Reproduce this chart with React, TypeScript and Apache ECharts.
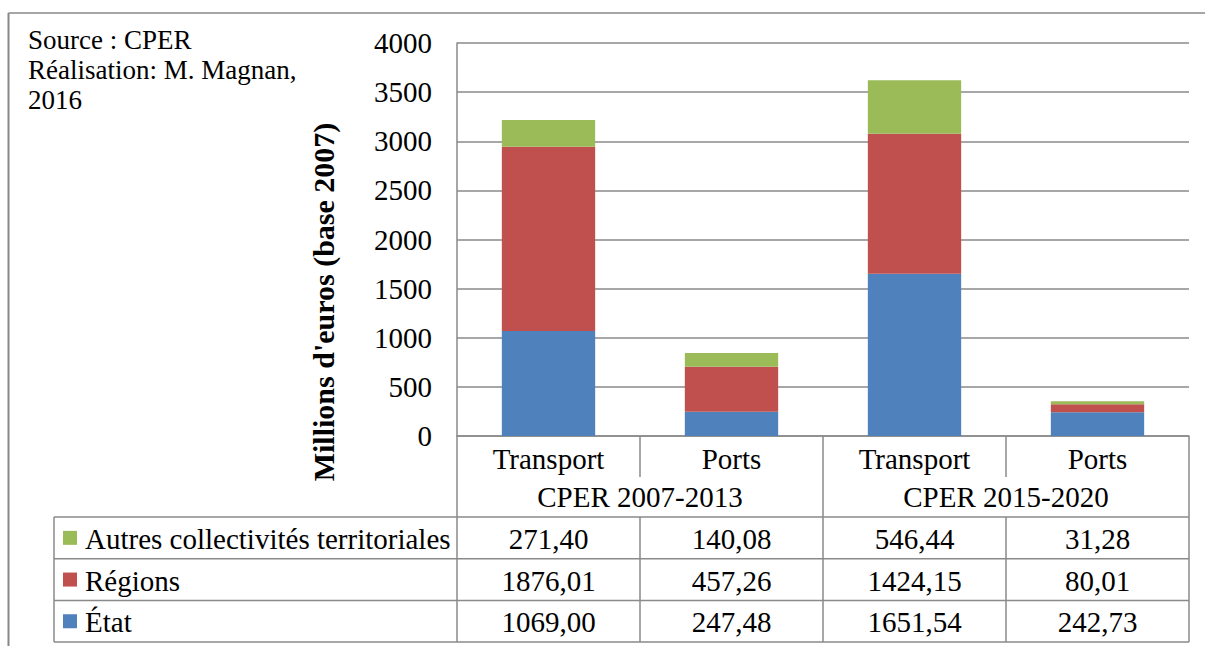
import React, { useEffect, useRef } from "react";
import * as echarts from "echarts";

const categories = ["Transport", "Ports", "Transport", "Ports"];
const periods = ["CPER 2007-2013", "CPER 2015-2020"];
const seriesNames = ["Autres collectivités territoriales", "Régions", "État"];
const autres = [271.4, 140.08, 546.44, 31.28];
const regions = [1876.01, 457.26, 1424.15, 80.01];
const etat = [1069.0, 247.48, 1651.54, 242.73];
const colors = ["#9BBB59", "#C0504D", "#4F81BD"];
const yMin = 0;
const yMax = 4000;
const yInterval = 500;
const yTitle = "Millions d'euros (base 2007)";
const sourceLines = ["Source : CPER", "Réalisation: M. Magnan,", "2016"];

const FONT = "Liberation Serif";
const LINE = "#8a8a8a";

const fmt = (v: number) => v.toFixed(2).replace(".", ",");

export default function App() {
  const ref = useRef<HTMLDivElement>(null);
  useEffect(() => {
    if (!ref.current) return;
    const chart = echarts.init(ref.current, null, { renderer: "svg" });
    chart.setOption({
      animation: false,
      textStyle: { fontFamily: FONT },
      grid: { left: 457, right: 16, top: 43, bottom: 210, containLabel: false },
      xAxis: {
        type: "category",
        data: categories,
        axisLine: { show: true, lineStyle: { color: LINE, width: 1.5 } },
        axisTick: { show: false },
        splitLine: { show: false },
        axisLabel: {
          color: "#000",
          fontSize: 29,
          fontFamily: FONT,
          margin: 8,
          lineHeight: 29,
          interval: 0,
        },
      },
      yAxis: {
        type: "value",
        min: yMin,
        max: yMax,
        interval: yInterval,
        axisLine: { show: true, lineStyle: { color: LINE, width: 1.5 } },
        axisTick: { show: false },
        splitLine: { show: true, lineStyle: { color: LINE, width: 1.5 } },
        axisLabel: {
          color: "#000",
          fontSize: 29,
          fontFamily: FONT,
          margin: 25,
          formatter: (v: number) => String(v),
        },
      },
      series: [
        { name: seriesNames[2], type: "bar", stack: "s", data: etat, itemStyle: { color: colors[2] }, barWidth: "51%" },
        { name: seriesNames[1], type: "bar", stack: "s", data: regions, itemStyle: { color: colors[1] }, barWidth: "51%" },
        { name: seriesNames[0], type: "bar", stack: "s", data: autres, itemStyle: { color: colors[0] }, barWidth: "51%" },
      ],
    });

    const xs = categories.map((_, i) => chart.convertToPixel({ xAxisIndex: 0 }, i) as number);
    const band = xs[1] - xs[0];
    const y0 = chart.convertToPixel({ yAxisIndex: 0 }, 0) as number;
    const leftEdge = xs[0] - band / 2;
    const rightEdge = xs[xs.length - 1] + band / 2;
    const tableLeft = 54;
    const rowTop = y0 + 81;
    const rowH = 41.7;
    const bottom = rowTop + rowH * 3;
    const ls = { stroke: LINE, lineWidth: 1.5 };
    const els: any[] = [];
    const txt = (x: number, y: number, text: string, align: string, extra: any = {}) =>
      els.push({
        type: "text",
        x,
        y,
        silent: true,
        ...extra,
        style: {
          text,
          fontFamily: FONT,
          fontSize: 29,
          fill: "#000",
          align,
          verticalAlign: "middle",
          ...(extra.style || {}),
        },
      });
    const vline = (x: number, a: number, b: number) =>
      els.push({ type: "line", shape: { x1: x, y1: a, x2: x, y2: b }, style: ls, silent: true });
    const hline = (y: number, a: number, b: number) =>
      els.push({ type: "line", shape: { x1: a, y1: y, x2: b, y2: y }, style: ls, silent: true });

    // outer frame
    els.push({ type: "line", shape: { x1: 8.5, y1: 13, x2: 1205, y2: 13 }, style: { stroke: "#888", lineWidth: 1.5 } });
    els.push({ type: "line", shape: { x1: 8.5, y1: 13, x2: 8.5, y2: 646 }, style: { stroke: "#888", lineWidth: 2 } });

    vline(leftEdge, y0, bottom);
    vline(tableLeft, rowTop, bottom);
    for (let k = 1; k <= categories.length; k++) {
      const x = leftEdge + k * band;
      if (k % 2 === 0) vline(x, y0, bottom);
      else {
        vline(x, y0, y0 + 41);
        vline(x, rowTop, bottom);
      }
    }
    for (let r = 0; r <= 3; r++) hline(rowTop + r * rowH, tableLeft, rightEdge);

    periods.forEach((p, j) => {
      txt((xs[2 * j] + xs[2 * j + 1]) / 2, y0 + 61, p, "center");
    });

    const rows = [autres, regions, etat];
    rows.forEach((vals, r) => {
      const cy = rowTop + r * rowH + rowH / 2;
      els.push({ type: "rect", shape: { x: 63, y: cy - 7, width: 14, height: 14 }, style: { fill: colors[r] } });
      txt(85, cy + 1, seriesNames[r], "left");
      vals.forEach((v, i) => txt(xs[i], cy + 1, fmt(v), "center"));
    });

    txt(323, 302, yTitle, "center", { rotation: Math.PI / 2, style: { fontWeight: "bold", fontSize: 30 } });
    els.push({
      type: "text",
      x: 28,
      y: 25,
      silent: true,
      style: {
        text: sourceLines.join("\n"),
        fontFamily: FONT,
        fontSize: 27,
        lineHeight: 30,
        fill: "#000",
        align: "left",
        verticalAlign: "top",
      },
    });

    chart.setOption({ graphic: els });
    return () => chart.dispose();
  }, []);
  return (
    <div
      ref={ref}
      style={{ position: "fixed", left: 0, top: 0, width: 1205, height: 646, background: "#fff" }}
    />
  );
}
